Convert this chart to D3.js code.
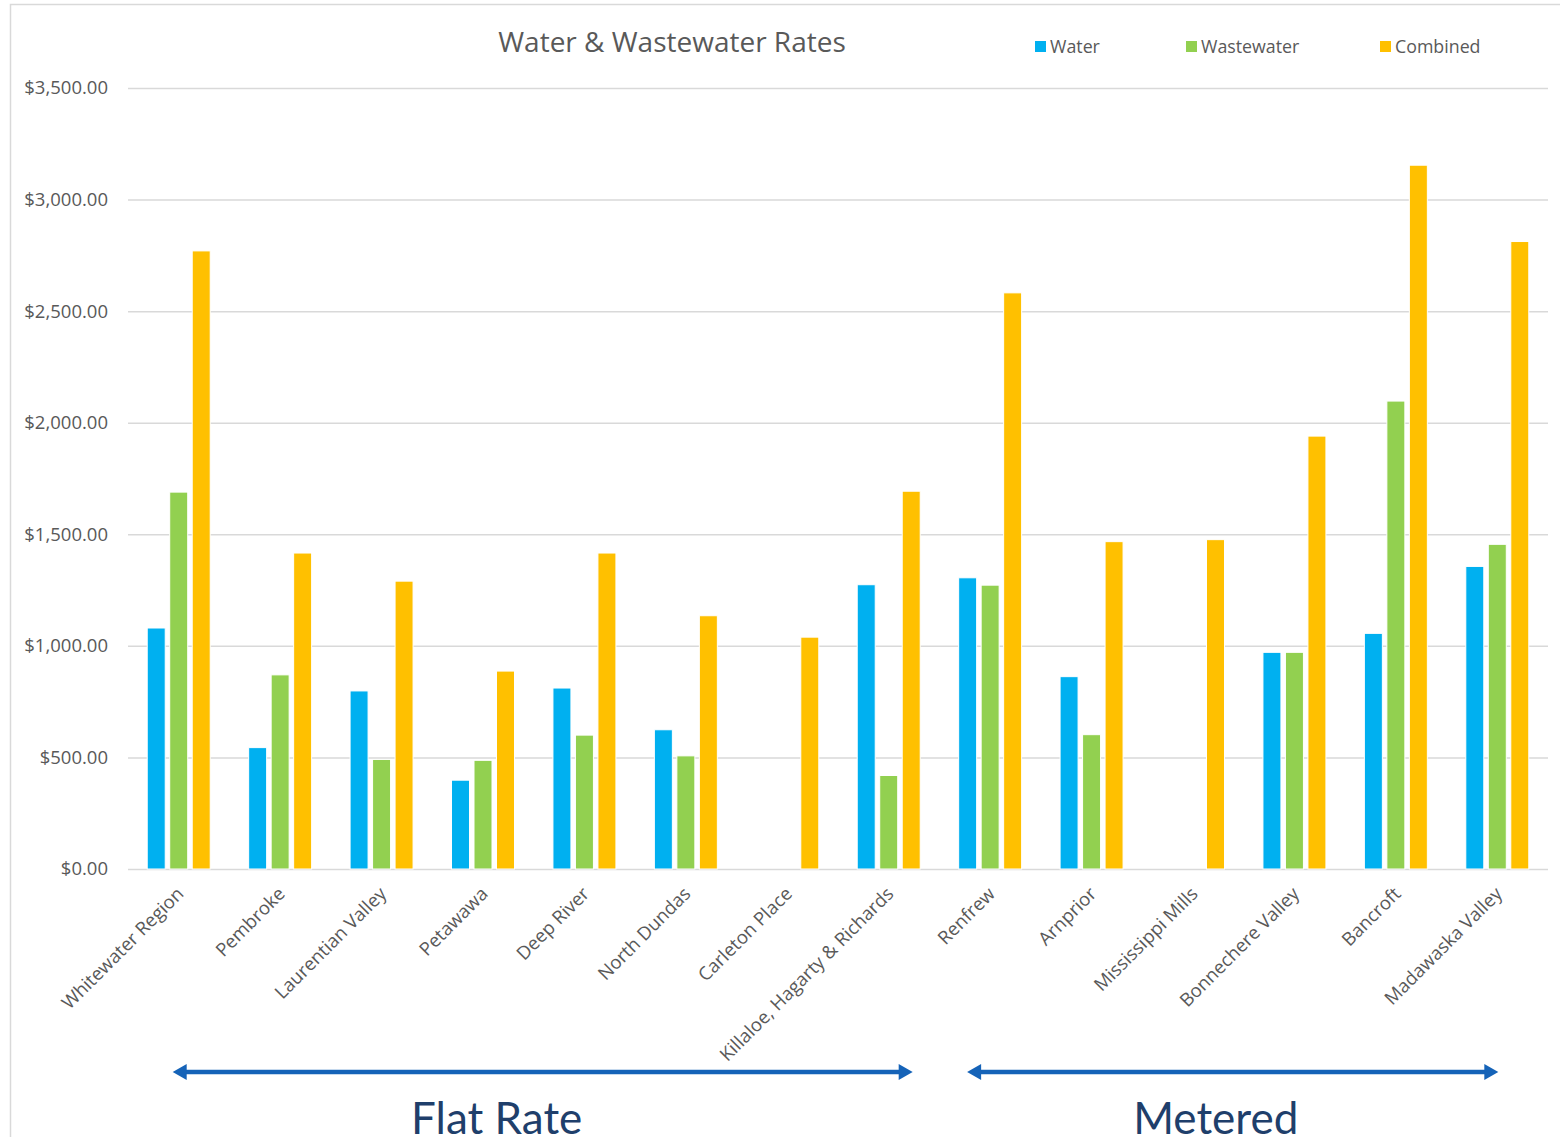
<!DOCTYPE html>
<html>
<head>
<meta charset="utf-8">
<script src="https://cdn.jsdelivr.net/npm/d3@7"></script>
<style>
  html, body { margin: 0; padding: 0; background: #fff; }
  svg { display: block; }
</style>
</head>
<body>
<svg id="chart" width="1560" height="1137"></svg>
<script>
// Municipalities, in chart order
const categories = [
  "Whitewater Region", "Pembroke", "Laurentian Valley", "Petawawa", "Deep River",
  "North Dundas", "Carleton Place", "Killaloe, Hagarty & Richards", "Renfrew",
  "Arnprior", "Mississippi Mills", "Bonnechere Valley", "Bancroft", "Madawaska Valley"
];

// Annual rates ($); null where a municipality reports no separate figure
const waterRates      = [1080, 544, 798, 398, 811, 624, null, 1274, 1305, 862, null, 971, 1056, 1356];
const wastewaterRates = [1689, 870, 491, 487, 600, 507, null, 419, 1272, 602, null, 971, 2097, 1455];
const combinedRates   = [2770, 1416, 1290, 887, 1416, 1135, 1039, 1693, 2582, 1467, 1476, 1940, 3154, 2812];

const seriesNames = ["Water", "Wastewater", "Combined"];
const seriesColors = ["#00B0F0", "#92D050", "#FFC000"];
const yTicks = [0, 500, 1000, 1500, 2000, 2500, 3000, 3500];

// Billing groups shown beneath the axis
const groupLabels = ["Flat Rate", "Metered"];
const groupFirst = ["Whitewater Region", "Renfrew"];
const groupLast = ["Killaloe, Hagarty & Richards", "Madawaska Valley"];

const seriesValues = [waterRates, wastewaterRates, combinedRates];

const svg = d3.select("#chart");
const W = 1560, H = 1137;
const plot = { left: 128, right: 1548, top: 88, bottom: 869 };

// Outer frame
svg.append("path")
  .attr("d", `M10.5,${H} L10.5,4.5 L${W},4.5`)
  .attr("fill", "none")
  .attr("stroke", "#d9d9d9")
  .attr("stroke-width", 1.5);

const x0 = d3.scaleBand()
  .domain(categories)
  .range([plot.left, plot.right])
  .paddingInner(0.379)
  .paddingOuter(0.1895);

const x1 = d3.scaleBand()
  .domain(seriesNames)
  .range([0, x0.bandwidth()])
  .paddingInner(0.2);

const y = d3.scaleLinear()
  .domain([0, 3500])
  .range([plot.bottom, plot.top]);

// Gridlines and value labels
const yAxis = d3.axisLeft(y)
  .tickValues(yTicks)
  .tickSize(-(plot.right - plot.left))
  .tickPadding(20)
  .tickFormat(d => "$" + d3.format(",.2f")(d));

const gy = svg.append("g")
  .attr("transform", `translate(${plot.left},0)`)
  .call(yAxis);
gy.select(".domain").remove();
gy.selectAll(".tick line")
  .attr("stroke", "#d9d9d9")
  .attr("stroke-width", 1.5);
gy.selectAll(".tick text")
  .attr("fill", "#595959")
  .style("font-family", "'Open Sans', sans-serif")
  .style("font-size", "18.5px");

// Bars
const rows = categories.map((c, i) => ({
  cat: c,
  vals: seriesNames.map((s, j) => ({ series: s, color: seriesColors[j], v: seriesValues[j][i] }))
}));

const groups = svg.append("g").selectAll("g")
  .data(rows)
  .join("g")
  .attr("transform", d => `translate(${x0(d.cat)},0)`);

groups.selectAll("rect")
  .data(d => d.vals.filter(v => v.v != null))
  .join("rect")
  .attr("x", d => x1(d.series))
  .attr("width", x1.bandwidth())
  .attr("y", d => y(d.v))
  .attr("height", d => y(0) - y(d.v))
  .attr("fill", d => d.color)
  .attr("stroke", "#ffffff")
  .attr("stroke-width", 1);

// Category labels, rotated
const catCenter = c => x0(c) + x0.bandwidth() / 2;
svg.append("g").selectAll("text")
  .data(categories)
  .join("text")
  .attr("transform", d => `translate(${catCenter(d) + 6},${plot.bottom + 26}) rotate(-45)`)
  .attr("text-anchor", "end")
  .attr("fill", "#595959")
  .style("font-family", "'Open Sans', sans-serif")
  .style("font-size", "18.5px")
  .text(d => d);

// Title
svg.append("text")
  .attr("x", 672)
  .attr("y", 52)
  .attr("text-anchor", "middle")
  .attr("fill", "#595959")
  .style("font-family", "'Open Sans', sans-serif")
  .style("font-size", "28px")
  .text("Water & Wastewater Rates");

// Legend
const legendX = [1035, 1186, 1380];
const legend = svg.append("g").selectAll("g")
  .data(seriesNames)
  .join("g")
  .attr("transform", (d, i) => `translate(${legendX[i]},41)`);
legend.append("rect")
  .attr("width", 11)
  .attr("height", 11)
  .attr("fill", (d, i) => seriesColors[i]);
legend.append("text")
  .attr("x", 15)
  .attr("y", 11.5)
  .attr("fill", "#595959")
  .style("font-family", "'Open Sans', sans-serif")
  .style("font-size", "17.8px")
  .text(d => d);

// Billing-type arrows and captions
const arrowColor = "#1563B8";
const spans = groupLabels.map((g, i) => ({
  label: g,
  x1: catCenter(groupFirst[i]) - (i === 0 ? 6 : 23),
  x2: catCenter(groupLast[i]) + (i === 0 ? 24 : 1),
  shift: i === 0 ? -46 : -17
}));

const arrows = svg.append("g").selectAll("g")
  .data(spans)
  .join("g");

arrows.append("line")
  .attr("x1", d => d.x1 + 10)
  .attr("x2", d => d.x2 - 10)
  .attr("y1", 1072)
  .attr("y2", 1072)
  .attr("stroke", arrowColor)
  .attr("stroke-width", 4.5);
arrows.append("path")
  .attr("d", d => `M${d.x1},1072 L${d.x1 + 14},1064 L${d.x1 + 14},1080 Z`)
  .attr("fill", arrowColor);
arrows.append("path")
  .attr("d", d => `M${d.x2},1072 L${d.x2 - 14},1064 L${d.x2 - 14},1080 Z`)
  .attr("fill", arrowColor);

arrows.append("text")
  .attr("x", d => (d.x1 + d.x2) / 2 + d.shift)
  .attr("y", 1134)
  .attr("text-anchor", "middle")
  .attr("fill", "#1F3F6B")
  .style("font-family", "Lato, sans-serif")
  .style("font-size", "44px")
  .text(d => d.label);
</script>
</body>
</html>
